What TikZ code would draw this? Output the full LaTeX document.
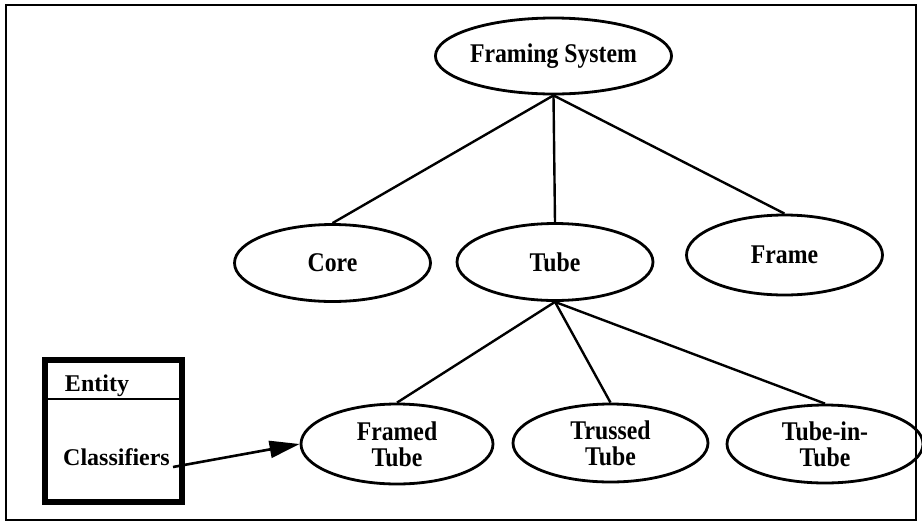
\documentclass[tikz,border=0pt]{standalone}
\usepackage{fontspec}
\setmainfont{Liberation Serif}
\newfontfamily\condfont[FakeStretch=0.88]{Liberation Serif Bold}
\usetikzlibrary{shapes.geometric,arrows.meta}
\begin{document}
\begin{tikzpicture}[x=1pt,y=-1pt,
  oval/.style={draw,ellipse,line width=2.8pt,inner sep=0pt,minimum width=196pt,minimum height=77pt,
    align=center,font=\condfont\fontsize{27}{26}\selectfont},
  link/.style={line width=2.4pt},
  boxtext/.style={font=\bfseries\fontsize{24}{24}\selectfont,inner sep=0pt,anchor=base}]
\useasboundingbox (0,0) rectangle (922,523);
\draw[line width=2pt] (6,5) rectangle (916,520);
% nodes
\node[oval,minimum width=198pt,minimum height=76pt] (fs) at (553.5,56) {Framing System};
\node[oval] (core) at (332.5,263) {Core};
\node[oval] (tube) at (555,262) {Tube};
\node[oval,minimum height=80pt] (frame) at (784.5,255) {Frame};
\node[oval,minimum width=192pt,minimum height=80pt] (ft) at (397,444) {Framed\\Tube};
\node[oval,minimum width=195pt,minimum height=78pt] (tt) at (610.5,443) {Trussed\\Tube};
\node[oval,minimum height=78pt] (tit) at (825,444) {Tube-in-\\Tube};
% entity box
\node[draw,line width=5.5pt,minimum width=137pt,minimum height=142pt,inner sep=0pt] (box) at (113.5,431) {};
\draw[line width=1.8pt] ([yshift=-42pt]box.north west) coordinate (dl) -- ([yshift=-42pt]box.north east) coordinate (dr);
\node[boxtext] (ent) at (97,391) {Entity};
\node[boxtext] (cls) at (116.5,465) {Classifiers};
% connectors
\draw[link] (fs.south) -- (core.north);
\draw[link] (fs.south) -- (tube.north);
\draw[link] (fs.south) -- (frame.north);
\draw[link] (tube.south) -- (ft.north);
\draw[link] (tube.south) -- (tt.north);
\draw[link] (tube.south) -- (tit.north);
\draw[line width=2.6pt,-{Triangle[length=30pt,width=17pt]}] ([xshift=3pt,yshift=-2pt]cls.base east) -- (ft.west);
\end{tikzpicture}
\end{document}
